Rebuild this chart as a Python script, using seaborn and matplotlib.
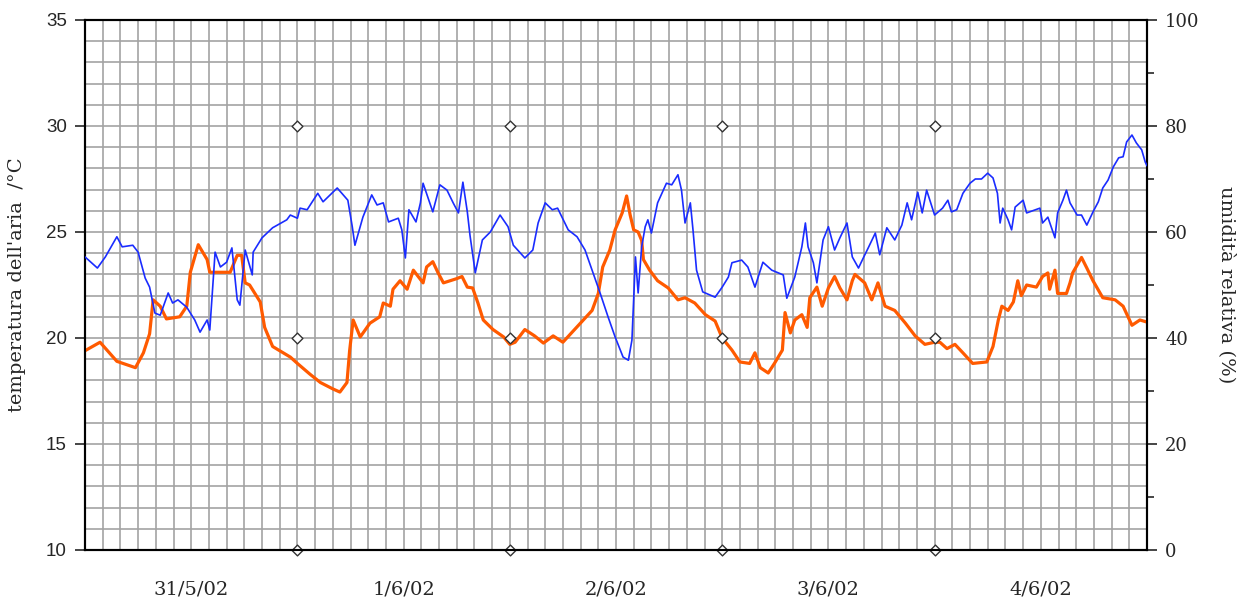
import numpy as np
import pandas as pd
import seaborn as sns
from matplotlib import pyplot as plt

# ore dall'inizio del 31/5/02 e temperatura dell'aria (°C)
temp_ore = [0, 1.7, 3.6, 5.7, 6.6, 7.3, 7.7, 8.5, 9.2, 10.7, 11.5, 11.9, 12.8, 13.8, 14.1,
            16.4, 17.2, 17.7, 18.1, 18.6, 19.8, 20.3, 21.2, 22.4, 23.2, 24.0, 25.4, 26.6,
            28.0, 28.8, 29.6, 29.9, 30.3, 31.1, 32.2, 33.3, 33.7, 34.5, 34.8, 35.6, 36.4,
            37.1, 38.2, 38.6, 39.3, 39.9, 40.5, 42.0, 42.6, 43.2, 43.8, 44.4, 45.0, 46.1,
            47.3, 48.0, 48.6, 49.7, 50.8, 51.8, 52.9, 54.0, 55.1, 56.3, 57.3, 58.0, 58.5,
            59.3, 59.9, 60.7, 61.2, 61.6, 62.0, 62.5, 62.9, 63.1, 63.8, 64.7, 65.9, 67.0,
            67.8, 68.9, 70.1, 71.2, 72.0, 73.1, 74.0, 75.1, 75.7, 76.3, 77.2, 77.9, 78.8,
            79.1, 79.7, 80.2, 81.0, 81.6, 81.9, 82.7, 83.3, 84.0, 84.7, 85.3, 86.1, 86.7,
            87.0, 88.1, 88.9, 89.6, 90.4, 91.5, 92.7, 93.8, 94.9, 96.0, 96.6, 97.4, 98.3,
            99.2, 100.3, 101.9, 102.6, 103.2, 103.6, 104.3, 104.9, 105.4, 105.8, 106.4,
            107.5, 108.2, 108.8, 109.0, 109.6, 109.9, 110.9, 111.3, 111.6, 112.6, 113.2,
            113.9, 115.0, 116.4, 117.3, 118.3, 119.2, 120.0]
temp_val = [19.4, 19.8, 18.9, 18.6, 19.3, 20.2, 21.8, 21.5, 20.9, 21.0, 21.5, 23.1, 24.4, 23.7, 23.1,
            23.1, 23.9, 23.9, 22.6, 22.5, 21.7, 20.5, 19.6, 19.3, 19.1, 18.8, 18.3, 17.9,
            17.6, 17.45, 17.9, 19.4, 20.85, 20.05, 20.7, 21.0, 21.65, 21.5, 22.3, 22.7, 22.3,
            23.2, 22.6, 23.35, 23.6, 23.07, 22.6, 22.8, 22.9, 22.4, 22.36, 21.65, 20.85, 20.4,
            20.05, 19.7, 19.8, 20.4, 20.1, 19.76, 20.1, 19.8, 20.3, 20.85, 21.3, 22.1, 23.35,
            24.15, 25.1, 25.9, 26.7, 25.8, 25.1, 25.0, 24.6, 23.7, 23.2, 22.7, 22.36, 21.8,
            21.9, 21.65, 21.1, 20.8, 20.0, 19.43, 18.87, 18.8, 19.3, 18.6, 18.35, 18.8, 19.43,
            21.2, 20.24, 20.85, 21.1, 20.5, 21.9, 22.4, 21.5, 22.36, 22.9, 22.36, 21.8, 22.7,
            23.0, 22.6, 21.8, 22.6, 21.5, 21.3, 20.7, 20.1, 19.7, 19.8, 19.8, 19.5, 19.7,
            19.3, 18.8, 18.87, 19.6, 20.85, 21.5, 21.3, 21.7, 22.7, 22.0, 22.5,
            22.4, 22.9, 23.07, 22.3, 23.2, 22.1, 22.1, 22.6, 23.07, 23.8, 23.3,
            22.7, 21.9, 21.8, 21.5, 20.6, 20.85, 20.75]

# umidità relativa (%)
umid_ore = [0, 1.4, 2.3, 3.6, 4.2, 5.4, 6.0, 6.8, 7.3, 7.9, 8.5, 9.4, 9.9, 10.5, 11.5, 12.4,
            13.0, 13.8, 14.1, 14.7, 15.3, 16.0, 16.6, 17.2, 17.5, 18.1, 18.9, 19.0, 20.0,
            21.2, 22.8, 23.2, 24.0, 24.3, 25.1, 26.3, 26.9, 28.5, 29.7, 30.2, 30.5, 31.4,
            32.4, 33.0, 33.7, 34.3, 35.4, 35.8, 36.2, 36.6, 37.4, 37.9, 38.2, 39.3, 40.1,
            40.9, 41.6, 42.2, 42.7, 43.2, 43.5, 44.1, 44.9, 45.8, 46.9, 47.8, 48.4, 49.7,
            50.6, 51.2, 52.0, 52.8, 53.4, 54.6, 55.6, 56.5, 57.4, 58.2, 59.1, 59.9, 60.8,
            61.4, 61.8, 62.2, 62.5, 62.9, 63.3, 63.6, 64.0, 64.7, 65.7, 66.3, 67.0, 67.4,
            67.8, 68.4, 68.7, 69.1, 69.8, 71.2, 72.0, 72.7, 73.1, 74.2, 74.9, 75.7, 76.6,
            77.6, 78.9, 79.3, 80.2, 81.0, 81.4, 81.7, 82.3, 82.7, 83.4, 84.0, 84.7, 85.3,
            86.1, 86.7, 87.4, 88.0, 88.5, 89.3, 89.8, 90.6, 91.5, 92.3, 92.9, 93.4, 94.1,
            94.6, 95.1, 96.0, 96.9, 97.5, 97.9, 98.5, 99.2, 100.0, 100.6, 101.3, 102.0,
            102.6, 103.1, 103.4, 103.7, 104.3, 104.7, 105.1, 106.0, 106.4, 107.9, 108.2,
            108.8, 109.3, 109.6, 109.9, 110.5, 110.9, 111.3, 112.1, 112.6, 113.2, 113.9,
            114.5, 115.0, 115.6, 116.2, 116.8, 117.3, 117.7, 118.3, 118.8, 119.4, 119.8, 120.0]
umid_val = [55.3, 53.2, 55.3, 59.1, 57.2, 57.5, 56.2, 51.3, 49.6, 44.7, 44.3, 48.5, 46.6, 47.2, 45.8, 43.4,
            41.1, 43.4, 41.5, 56.2, 53.4, 54.3, 57.0, 47.2, 46.2, 56.6, 51.9, 56.2, 58.9,
            60.8, 62.3, 63.2, 62.6, 64.5, 64.2, 67.3, 65.7, 68.3, 66.0, 61.0, 57.5, 62.8,
            67.0, 65.1, 65.5, 61.9, 62.6, 60.4, 55.1, 64.2, 61.9, 65.5, 69.2, 63.8, 68.9,
            67.9, 65.5, 63.6, 69.4, 63.8, 59.4, 52.3, 58.5, 60.0, 63.2, 61.0, 57.5, 55.1,
            56.6, 61.7, 65.5, 64.2, 64.5, 60.4, 59.1, 56.6, 52.3, 48.5, 44.0, 40.2, 36.4,
            35.8, 39.6, 55.3, 48.5, 57.2, 61.0, 62.3, 59.8, 65.5, 69.2, 68.9, 70.8, 67.9,
            61.7, 65.5, 60.4, 52.8, 48.7, 47.7, 49.6, 51.5, 54.2, 54.7, 53.4, 49.6, 54.3,
            52.8, 51.9, 47.5, 51.5, 57.2, 61.7, 57.2, 54.2, 50.4, 58.5, 61.0, 56.6, 58.9,
            61.7, 55.3, 53.2, 55.3, 57.0, 59.8, 55.7, 60.8, 58.5, 61.3, 65.5, 62.3, 67.5,
            63.6, 67.9, 63.2, 64.5, 66.0, 63.8, 64.2, 67.3, 69.2, 70.0, 70.0, 71.1,
            70.2, 67.3, 61.7, 64.5, 62.3, 60.4, 64.7, 66.0, 63.6, 64.5, 61.7,
            62.8, 60.4, 58.9, 63.6, 66.0, 67.9, 65.5, 63.2, 63.2, 61.3, 63.8,
            65.7, 68.3, 69.8, 72.3, 74.0, 74.2, 77.0, 78.3, 76.8, 75.5, 73.2, 72.5]

# marcatori della mezzanotte (serie ausiliaria sull'asse della temperatura)
mezzanotte_ore = [24, 48, 72, 96]
mezzanotte_val = [10, 20, 30]

giorni = ['31/5/02', '1/6/02', '2/6/02', '3/6/02', '4/6/02']

sns.set_theme(style="white")
plt.rcParams['font.family'] = ['DejaVu Serif']

fig = plt.figure(figsize=(12.42, 6.06), dpi=100)
ax = fig.add_axes([85 / 1242, 1 - 550 / 606, 1062 / 1242, 530 / 606])
ax2 = ax.twinx()

temp = pd.DataFrame({'ore': temp_ore, 'T': temp_val})
umid = pd.DataFrame({'ore': umid_ore, 'UR': umid_val})
mezz = pd.DataFrame([(h, v) for h in mezzanotte_ore for v in mezzanotte_val], columns=['ore', 'v'])

sns.lineplot(data=temp, x='ore', y='T', ax=ax, color='#ff5a00', lw=2.3, zorder=3)
sns.lineplot(data=umid, x='ore', y='UR', ax=ax2, color='#1a2cff', lw=1.2, zorder=3)
sns.scatterplot(data=mezz, x='ore', y='v', ax=ax, marker='D', s=30, color='white',
                edgecolor='#333333', linewidth=1.0, zorder=5, clip_on=False)

grid_col = '#a3a3a3'
ax.set_xlim(0, 120)
ax.set_ylim(10, 35)
ax2.set_ylim(0, 100)

# griglia: verticali ogni 2 ore, orizzontali ogni grado
ax.set_xticks(np.arange(0, 121, 2))
ax.set_xticklabels([])
ax.set_xticks([12 + 24 * i for i in range(5)], minor=True)
ax.set_xticklabels(giorni, minor=True)
ax.xaxis.remove_overlapping_locs = False
ax.tick_params(axis='x', which='both', length=0)
ax.tick_params(axis='x', which='minor', pad=22, labelsize=14)
ax.set_yticks(np.arange(10, 36, 5))
ax.set_yticks(np.arange(10, 36, 1), minor=True)
ax.grid(True, which='major', axis='x', color=grid_col, lw=1.2)
ax.grid(True, which='both', axis='y', color=grid_col, lw=1.2)
ax.set_axisbelow(True)
ax.tick_params(axis='y', which='major', length=7, width=1.2, direction='out', pad=6,
               labelsize=13.5, left=True)
ax.tick_params(axis='y', which='minor', length=0)
for lbl in ax.get_yticklabels():
    lbl.set_family(['Liberation Sans', 'DejaVu Sans'])

ax2.set_yticks(np.arange(0, 101, 20))
ax2.set_yticks(np.arange(0, 101, 10), minor=True)
ax2.tick_params(axis='y', which='major', length=7, width=1.2, direction='out', pad=6,
                labelsize=13, right=True)
ax2.tick_params(axis='y', which='minor', length=5, width=1.2, direction='out', right=True)
ax2.grid(False)

for a in (ax, ax2):
    for s in a.spines.values():
        s.set_color('black')
        s.set_linewidth(1.5)

ax.set_xlabel('')
ax.set_ylabel("temperatura dell'aria  /°C", fontsize=14, labelpad=14)
ax2.set_ylabel('umidità relativa (%)', fontsize=14, rotation=270, labelpad=26)

fig.savefig('out.png', dpi=100)
